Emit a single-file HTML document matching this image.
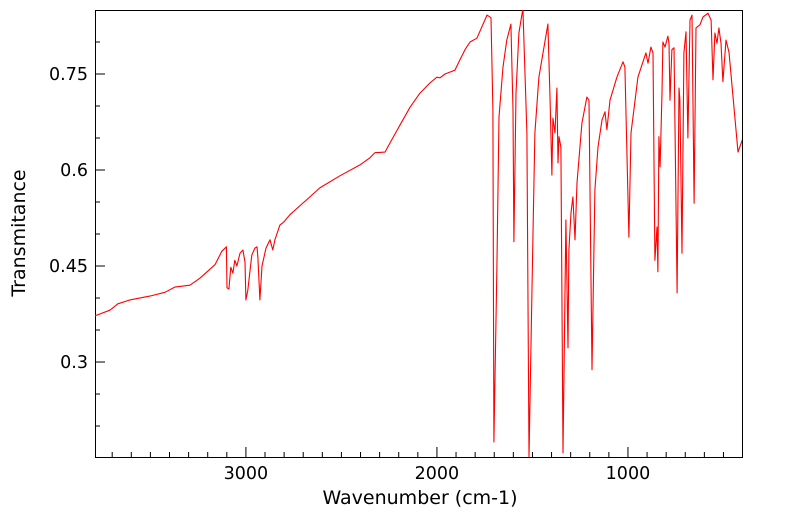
<!DOCTYPE html>
<html><head><meta charset="utf-8"><style>
html,body{margin:0;padding:0;background:#fff;}
svg{display:block;font-family:"DejaVu Sans","Liberation Sans",sans-serif;}
</style></head><body>
<svg id="chart" width="799" height="516" viewBox="0 0 799 516" xmlns="http://www.w3.org/2000/svg">
<defs><clipPath id="clip"><rect x="95" y="10" width="647" height="447"/></clipPath></defs>
<rect x="95.5" y="10.5" width="647" height="447" fill="none" stroke="#000" stroke-width="1"/>
<g id="axes"></g>
<path id="line" clip-path="url(#clip)" fill="none" stroke="#ff0000" stroke-width="1.1" stroke-linejoin="round"/>
<text x="420" y="504" font-size="19" text-anchor="middle">Wavenumber (cm-1)</text>
<text transform="translate(25,233) rotate(-90)" font-size="19" text-anchor="middle">Transmitance</text>
</svg>
<script>
const wavenumbers=[3791,3712,3670,3607,3503,3424,3372,3293,3241,3162,3126,3102,3099,3089,3079,3068,3058,3047,3031,3016,3005,3000,2990,2969,2953,2942,2937,2927,2916,2895,2874,2859,2848,2822,2801,2770,2665,2613,2508,2403,2351,2325,2272,2246,2194,2141,2089,2037,2000,1984,1958,1932,1906,1880,1853,1827,1791,1738,1717,1707,1702,1686,1675,1654,1634,1613,1602,1597,1586,1571,1550,1529,1518,1497,1487,1466,1419,1408,1398,1393,1382,1372,1366,1361,1351,1340,1325,1314,1309,1298,1288,1277,1267,1241,1215,1204,1188,1173,1157,1136,1120,1110,1094,1058,1026,1016,995,984,969,948,906,895,880,869,859,848,843,838,832,822,817,806,791,785,780,770,759,743,733,728,717,707,696,686,675,665,654,644,623,607,581,565,555,545,534,524,513,503,487,471,424,398];
const transmittance=[0.372,0.381,0.391,0.397,0.403,0.409,0.417,0.420,0.431,0.452,0.473,0.480,0.416,0.414,0.448,0.439,0.459,0.450,0.470,0.475,0.456,0.397,0.412,0.467,0.478,0.480,0.463,0.397,0.450,0.478,0.491,0.475,0.491,0.514,0.519,0.530,0.558,0.572,0.591,0.608,0.619,0.627,0.628,0.642,0.670,0.698,0.720,0.736,0.745,0.744,0.750,0.753,0.756,0.772,0.788,0.800,0.806,0.842,0.838,0.694,0.175,0.448,0.683,0.761,0.803,0.828,0.694,0.488,0.720,0.814,0.852,0.658,0.152,0.502,0.658,0.745,0.828,0.714,0.592,0.681,0.658,0.728,0.611,0.652,0.636,0.158,0.522,0.322,0.475,0.533,0.558,0.491,0.580,0.673,0.714,0.709,0.288,0.569,0.636,0.678,0.691,0.663,0.709,0.745,0.769,0.761,0.495,0.658,0.694,0.745,0.783,0.767,0.792,0.783,0.459,0.511,0.441,0.652,0.605,0.720,0.800,0.792,0.809,0.798,0.709,0.788,0.791,0.408,0.728,0.709,0.470,0.783,0.816,0.650,0.834,0.842,0.548,0.822,0.827,0.839,0.845,0.834,0.741,0.814,0.798,0.822,0.798,0.738,0.803,0.784,0.628,0.650];
const xTickLabels=[3000,2000,1000];
const yTickLabels=["0.3","0.45","0.6","0.75"];

const X0=95,X1=742,Y0=10,Y1=457;
const WL=3790,WR=403,TT=0.8500,TB=0.1516;
function xs(w){return X0+(WL-w)/(WL-WR)*(X1-X0);}
function ys(t){return Y0+(TT-t)/(TT-TB)*(Y1-Y0);}
const NS="http://www.w3.org/2000/svg";
const axes=document.getElementById('axes');
function mk(tag,attrs){const e=document.createElementNS(NS,tag);for(const k in attrs)e.setAttribute(k,attrs[k]);return e;}
for(let w=3700;w>=500;w-=100){
  const major=xTickLabels.includes(w);
  const x=xs(w);
  const l=mk('line',{x1:x,x2:x,y1:Y1,y2:Y1-(major?10:5),stroke:'#000','stroke-width':1});
  
  
  axes.appendChild(l);
  if(major){
    const t=mk('text',{x:x,y:479,'font-size':17.5,'text-anchor':'middle'});
    
    
    t.textContent=w;axes.appendChild(t);
  }
}
for(let k=4;k<=16;k++){
  const v=k*0.05;
  const lbl=yTickLabels.find(s=>Math.abs(parseFloat(s)-v)<1e-6);
  const y=ys(v);
  if(y<Y0||y>Y1)continue;
  const l=mk('line',{x1:X0,x2:X0+(lbl?10:5),y1:y,y2:y,stroke:'#000','stroke-width':1});
  
  
  axes.appendChild(l);
  if(lbl){
    const t=mk('text',{x:88,y:y+6,'font-size':17.5,'text-anchor':'end'});
    
    
    t.textContent=lbl;axes.appendChild(t);
  }
}
let d='';
for(let i=0;i<wavenumbers.length;i++){d+=(i?'L':'M')+xs(wavenumbers[i]).toFixed(1)+','+ys(transmittance[i]).toFixed(1);}
document.getElementById('line').setAttribute('d',d);
</script>
</body></html>
